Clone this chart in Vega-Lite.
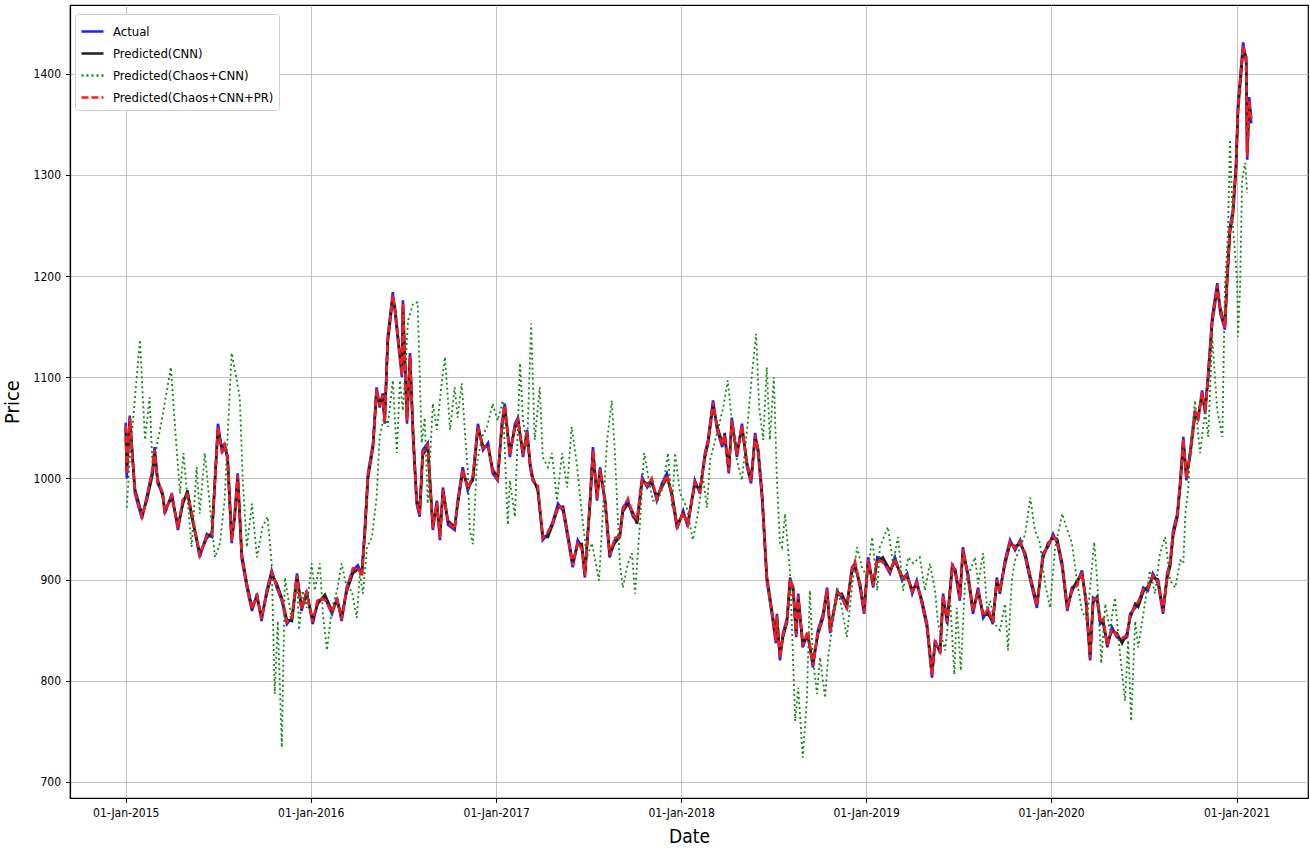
{
  "$schema": "https://vega.github.io/schema/vega-lite/v6.json",
  "width": 1238,
  "height": 793,
  "autosize": {"type": "none"},
  "padding": {"left": 70, "top": 5, "right": 2, "bottom": 53},
  "background": "white",
  "config": {
    "font": "DejaVu Sans Condensed",
    "view": {"stroke": "#000000", "strokeWidth": 1.2},
    "axis": {
      "grid": true,
      "gridColor": "#b5b5b5",
      "gridWidth": 0.8,
      "domainColor": "#000000",
      "domainWidth": 1.2,
      "tickColor": "#000000",
      "tickSize": 4.5,
      "labelFont": "DejaVu Sans Condensed",
      "labelFontSize": 12,
      "labelColor": "#000000",
      "titleFont": "DejaVu Sans Condensed",
      "titleFontWeight": "normal",
      "titleColor": "#000000"
    },
    "legend": {
      "fillColor": "#ffffff",
      "strokeColor": "#cfcfcf",
      "cornerRadius": 3,
      "padding": 5,
      "symbolType": "stroke",
      "symbolSize": 484,
      "symbolStrokeWidth": 2.5,
      "labelFont": "DejaVu Sans Condensed",
      "labelFontSize": 13,
      "labelColor": "#000000",
      "labelLimit": 400,
      "rowPadding": 2,
      "labelOffset": 8
    }
  },
  "datasets": {
    "main": [
      {"d": "2015-01-01", "a": 1055, "c": 1050, "p": 1052},
      {"d": "2015-01-03", "a": 1000, "c": 1008, "p": 1004},
      {"d": "2015-01-09", "a": 1062, "c": 1058, "p": 1060},
      {"d": "2015-01-19", "a": 985, "c": 990, "p": 987},
      {"d": "2015-02-02", "a": 960, "c": 964, "p": 962},
      {"d": "2015-02-11", "a": 981, "c": 977, "p": 979},
      {"d": "2015-02-23", "a": 1008, "c": 1004, "p": 1010},
      {"d": "2015-02-27", "a": 1031, "c": 1026, "p": 1028},
      {"d": "2015-03-05", "a": 995, "c": 999, "p": 997},
      {"d": "2015-03-15", "a": 985, "c": 982, "p": 986},
      {"d": "2015-03-19", "a": 965, "c": 969, "p": 967},
      {"d": "2015-04-02", "a": 985, "c": 981, "p": 983},
      {"d": "2015-04-14", "a": 949, "c": 953, "p": 951},
      {"d": "2015-04-24", "a": 978, "c": 975, "p": 980},
      {"d": "2015-05-03", "a": 985, "c": 988, "p": 984},
      {"d": "2015-05-11", "a": 965, "c": 962, "p": 967},
      {"d": "2015-05-27", "a": 922, "c": 926, "p": 924},
      {"d": "2015-06-10", "a": 945, "c": 941, "p": 943},
      {"d": "2015-06-20", "a": 942, "c": 946, "p": 944},
      {"d": "2015-07-02", "a": 1054, "c": 1048, "p": 1051},
      {"d": "2015-07-10", "a": 1025, "c": 1030, "p": 1027},
      {"d": "2015-07-15", "a": 1035, "c": 1031, "p": 1033},
      {"d": "2015-07-21", "a": 1018, "c": 1022, "p": 1020},
      {"d": "2015-07-29", "a": 936, "c": 941, "p": 938},
      {"d": "2015-08-04", "a": 965, "c": 961, "p": 963},
      {"d": "2015-08-10", "a": 1005, "c": 1000, "p": 1003},
      {"d": "2015-08-18", "a": 920, "c": 925, "p": 922},
      {"d": "2015-08-28", "a": 892, "c": 896, "p": 894},
      {"d": "2015-09-07", "a": 869, "c": 873, "p": 871},
      {"d": "2015-09-17", "a": 886, "c": 882, "p": 884},
      {"d": "2015-09-26", "a": 859, "c": 863, "p": 861},
      {"d": "2015-10-06", "a": 889, "c": 885, "p": 887},
      {"d": "2015-10-16", "a": 909, "c": 905, "p": 907},
      {"d": "2015-10-26", "a": 892, "c": 896, "p": 894},
      {"d": "2015-11-05", "a": 879, "c": 882, "p": 880},
      {"d": "2015-11-15", "a": 856, "c": 860, "p": 858},
      {"d": "2015-11-25", "a": 862, "c": 859, "p": 864},
      {"d": "2015-12-05", "a": 906, "c": 902, "p": 904},
      {"d": "2015-12-14", "a": 869, "c": 873, "p": 871},
      {"d": "2015-12-24", "a": 889, "c": 885, "p": 887},
      {"d": "2016-01-05", "a": 856, "c": 860, "p": 858},
      {"d": "2016-01-15", "a": 879, "c": 876, "p": 881},
      {"d": "2016-01-29", "a": 882, "c": 885, "p": 880},
      {"d": "2016-02-12", "a": 866, "c": 869, "p": 868},
      {"d": "2016-02-22", "a": 882, "c": 879, "p": 880},
      {"d": "2016-03-02", "a": 859, "c": 863, "p": 861},
      {"d": "2016-03-12", "a": 892, "c": 888, "p": 890},
      {"d": "2016-03-24", "a": 909, "c": 906, "p": 911},
      {"d": "2016-04-03", "a": 914, "c": 910, "p": 912},
      {"d": "2016-04-11", "a": 905, "c": 908, "p": 903},
      {"d": "2016-04-17", "a": 952, "c": 947, "p": 950},
      {"d": "2016-04-23", "a": 1005, "c": 1000, "p": 1003},
      {"d": "2016-05-03", "a": 1035, "c": 1031, "p": 1033},
      {"d": "2016-05-10", "a": 1090, "c": 1085, "p": 1088},
      {"d": "2016-05-16", "a": 1070, "c": 1074, "p": 1072},
      {"d": "2016-05-22", "a": 1084, "c": 1080, "p": 1082},
      {"d": "2016-05-26", "a": 1054, "c": 1058, "p": 1056},
      {"d": "2016-06-01", "a": 1140, "c": 1134, "p": 1137},
      {"d": "2016-06-11", "a": 1184, "c": 1178, "p": 1181},
      {"d": "2016-06-15", "a": 1166, "c": 1170, "p": 1168},
      {"d": "2016-06-21", "a": 1137, "c": 1141, "p": 1139},
      {"d": "2016-06-29", "a": 1100, "c": 1105, "p": 1102},
      {"d": "2016-07-01", "a": 1176, "c": 1170, "p": 1173},
      {"d": "2016-07-09", "a": 1054, "c": 1060, "p": 1057},
      {"d": "2016-07-15", "a": 1124, "c": 1119, "p": 1121},
      {"d": "2016-07-21", "a": 1041, "c": 1046, "p": 1043},
      {"d": "2016-07-28", "a": 975, "c": 980, "p": 977},
      {"d": "2016-08-03", "a": 962, "c": 966, "p": 964},
      {"d": "2016-08-09", "a": 1028, "c": 1023, "p": 1026},
      {"d": "2016-08-19", "a": 1035, "c": 1031, "p": 1033},
      {"d": "2016-08-29", "a": 949, "c": 953, "p": 951},
      {"d": "2016-09-06", "a": 978, "c": 974, "p": 976},
      {"d": "2016-09-12", "a": 939, "c": 943, "p": 941},
      {"d": "2016-09-18", "a": 991, "c": 987, "p": 989},
      {"d": "2016-09-28", "a": 954, "c": 958, "p": 956},
      {"d": "2016-10-11", "a": 949, "c": 952, "p": 950},
      {"d": "2016-10-17", "a": 978, "c": 974, "p": 976},
      {"d": "2016-10-27", "a": 1011, "c": 1007, "p": 1009},
      {"d": "2016-11-06", "a": 988, "c": 992, "p": 990},
      {"d": "2016-11-16", "a": 1001, "c": 998, "p": 1003},
      {"d": "2016-11-26", "a": 1054, "c": 1049, "p": 1051},
      {"d": "2016-12-06", "a": 1028, "c": 1032, "p": 1030},
      {"d": "2016-12-16", "a": 1035, "c": 1031, "p": 1033},
      {"d": "2016-12-25", "a": 1005, "c": 1009, "p": 1007},
      {"d": "2017-01-04", "a": 998, "c": 1001, "p": 999},
      {"d": "2017-01-12", "a": 1054, "c": 1049, "p": 1052},
      {"d": "2017-01-18", "a": 1074, "c": 1069, "p": 1072},
      {"d": "2017-01-28", "a": 1021, "c": 1026, "p": 1023},
      {"d": "2017-02-07", "a": 1054, "c": 1050, "p": 1052},
      {"d": "2017-02-13", "a": 1060, "c": 1056, "p": 1058},
      {"d": "2017-02-23", "a": 1021, "c": 1025, "p": 1023},
      {"d": "2017-03-03", "a": 1048, "c": 1044, "p": 1046},
      {"d": "2017-03-09", "a": 1011, "c": 1015, "p": 1013},
      {"d": "2017-03-14", "a": 998, "c": 1001, "p": 999},
      {"d": "2017-03-24", "a": 991, "c": 988, "p": 993},
      {"d": "2017-04-03", "a": 939, "c": 943, "p": 941},
      {"d": "2017-04-13", "a": 945, "c": 942, "p": 947},
      {"d": "2017-04-23", "a": 958, "c": 955, "p": 956},
      {"d": "2017-05-03", "a": 975, "c": 971, "p": 973},
      {"d": "2017-05-13", "a": 968, "c": 972, "p": 970},
      {"d": "2017-05-23", "a": 939, "c": 943, "p": 941},
      {"d": "2017-06-01", "a": 912, "c": 916, "p": 914},
      {"d": "2017-06-11", "a": 939, "c": 935, "p": 937},
      {"d": "2017-06-19", "a": 932, "c": 935, "p": 930},
      {"d": "2017-06-25", "a": 902, "c": 906, "p": 904},
      {"d": "2017-07-05", "a": 978, "c": 972, "p": 975},
      {"d": "2017-07-11", "a": 1031, "c": 1025, "p": 1028},
      {"d": "2017-07-19", "a": 978, "c": 983, "p": 980},
      {"d": "2017-07-25", "a": 1011, "c": 1007, "p": 1009},
      {"d": "2017-08-04", "a": 975, "c": 979, "p": 977},
      {"d": "2017-08-13", "a": 922, "c": 926, "p": 924},
      {"d": "2017-08-23", "a": 939, "c": 936, "p": 941},
      {"d": "2017-09-02", "a": 945, "c": 942, "p": 943},
      {"d": "2017-09-08", "a": 971, "c": 967, "p": 969},
      {"d": "2017-09-18", "a": 978, "c": 975, "p": 980},
      {"d": "2017-09-28", "a": 962, "c": 966, "p": 964},
      {"d": "2017-10-06", "a": 958, "c": 955, "p": 960},
      {"d": "2017-10-16", "a": 1001, "c": 997, "p": 999},
      {"d": "2017-10-26", "a": 991, "c": 995, "p": 993},
      {"d": "2017-11-04", "a": 998, "c": 995, "p": 1000},
      {"d": "2017-11-14", "a": 978, "c": 982, "p": 980},
      {"d": "2017-11-24", "a": 995, "c": 991, "p": 993},
      {"d": "2017-12-04", "a": 1005, "c": 1001, "p": 1003},
      {"d": "2017-12-14", "a": 981, "c": 985, "p": 983},
      {"d": "2017-12-24", "a": 950, "c": 954, "p": 952},
      {"d": "2018-01-05", "a": 968, "c": 965, "p": 966},
      {"d": "2018-01-14", "a": 952, "c": 956, "p": 954},
      {"d": "2018-01-28", "a": 998, "c": 994, "p": 996},
      {"d": "2018-02-07", "a": 985, "c": 989, "p": 987},
      {"d": "2018-02-17", "a": 1025, "c": 1021, "p": 1023},
      {"d": "2018-02-23", "a": 1038, "c": 1034, "p": 1036},
      {"d": "2018-03-05", "a": 1077, "c": 1072, "p": 1075},
      {"d": "2018-03-13", "a": 1048, "c": 1052, "p": 1050},
      {"d": "2018-03-23", "a": 1031, "c": 1035, "p": 1033},
      {"d": "2018-03-28", "a": 1045, "c": 1041, "p": 1043},
      {"d": "2018-04-05", "a": 1005, "c": 1009, "p": 1007},
      {"d": "2018-04-11", "a": 1060, "c": 1055, "p": 1057},
      {"d": "2018-04-21", "a": 1021, "c": 1025, "p": 1023},
      {"d": "2018-05-01", "a": 1054, "c": 1050, "p": 1052},
      {"d": "2018-05-11", "a": 1011, "c": 1015, "p": 1013},
      {"d": "2018-05-19", "a": 995, "c": 999, "p": 997},
      {"d": "2018-05-27", "a": 1045, "c": 1040, "p": 1043},
      {"d": "2018-06-02", "a": 1025, "c": 1029, "p": 1027},
      {"d": "2018-06-10", "a": 978, "c": 983, "p": 980},
      {"d": "2018-06-19", "a": 899, "c": 904, "p": 901},
      {"d": "2018-07-01", "a": 859, "c": 863, "p": 861},
      {"d": "2018-07-07", "a": 837, "c": 841, "p": 839},
      {"d": "2018-07-09", "a": 866, "c": 862, "p": 864},
      {"d": "2018-07-15", "a": 820, "c": 825, "p": 822},
      {"d": "2018-07-21", "a": 847, "c": 843, "p": 845},
      {"d": "2018-07-29", "a": 862, "c": 858, "p": 860},
      {"d": "2018-08-04", "a": 902, "c": 898, "p": 900},
      {"d": "2018-08-10", "a": 889, "c": 893, "p": 891},
      {"d": "2018-08-16", "a": 843, "c": 847, "p": 845},
      {"d": "2018-08-20", "a": 886, "c": 882, "p": 884},
      {"d": "2018-08-29", "a": 833, "c": 837, "p": 835},
      {"d": "2018-09-08", "a": 847, "c": 844, "p": 849},
      {"d": "2018-09-18", "a": 813, "c": 818, "p": 815},
      {"d": "2018-09-28", "a": 850, "c": 846, "p": 848},
      {"d": "2018-10-08", "a": 866, "c": 862, "p": 864},
      {"d": "2018-10-16", "a": 892, "c": 888, "p": 890},
      {"d": "2018-10-22", "a": 847, "c": 851, "p": 849},
      {"d": "2018-11-05", "a": 889, "c": 885, "p": 887},
      {"d": "2018-11-14", "a": 882, "c": 886, "p": 884},
      {"d": "2018-11-24", "a": 872, "c": 875, "p": 870},
      {"d": "2018-12-04", "a": 912, "c": 908, "p": 910},
      {"d": "2018-12-10", "a": 916, "c": 913, "p": 918},
      {"d": "2018-12-20", "a": 892, "c": 896, "p": 894},
      {"d": "2018-12-28", "a": 866, "c": 870, "p": 868},
      {"d": "2019-01-05", "a": 922, "c": 917, "p": 920},
      {"d": "2019-01-15", "a": 892, "c": 896, "p": 894},
      {"d": "2019-01-23", "a": 922, "c": 918, "p": 920},
      {"d": "2019-02-03", "a": 919, "c": 922, "p": 917},
      {"d": "2019-02-17", "a": 906, "c": 909, "p": 908},
      {"d": "2019-02-27", "a": 922, "c": 918, "p": 920},
      {"d": "2019-03-13", "a": 899, "c": 903, "p": 901},
      {"d": "2019-03-23", "a": 906, "c": 902, "p": 904},
      {"d": "2019-04-02", "a": 886, "c": 890, "p": 888},
      {"d": "2019-04-11", "a": 899, "c": 895, "p": 897},
      {"d": "2019-04-21", "a": 876, "c": 880, "p": 878},
      {"d": "2019-05-01", "a": 853, "c": 857, "p": 855},
      {"d": "2019-05-11", "a": 803, "c": 808, "p": 805},
      {"d": "2019-05-17", "a": 840, "c": 836, "p": 838},
      {"d": "2019-05-27", "a": 827, "c": 831, "p": 829},
      {"d": "2019-06-02", "a": 886, "c": 881, "p": 884},
      {"d": "2019-06-10", "a": 856, "c": 860, "p": 858},
      {"d": "2019-06-20", "a": 916, "c": 911, "p": 914},
      {"d": "2019-06-26", "a": 906, "c": 910, "p": 908},
      {"d": "2019-07-05", "a": 879, "c": 883, "p": 881},
      {"d": "2019-07-11", "a": 932, "c": 927, "p": 930},
      {"d": "2019-07-21", "a": 902, "c": 906, "p": 904},
      {"d": "2019-07-31", "a": 866, "c": 870, "p": 868},
      {"d": "2019-08-10", "a": 892, "c": 888, "p": 890},
      {"d": "2019-08-20", "a": 862, "c": 866, "p": 864},
      {"d": "2019-08-30", "a": 869, "c": 865, "p": 871},
      {"d": "2019-09-08", "a": 856, "c": 860, "p": 858},
      {"d": "2019-09-16", "a": 902, "c": 897, "p": 900},
      {"d": "2019-09-22", "a": 886, "c": 890, "p": 888},
      {"d": "2019-10-02", "a": 919, "c": 915, "p": 917},
      {"d": "2019-10-12", "a": 939, "c": 935, "p": 937},
      {"d": "2019-10-22", "a": 929, "c": 933, "p": 931},
      {"d": "2019-11-01", "a": 939, "c": 935, "p": 937},
      {"d": "2019-11-11", "a": 922, "c": 926, "p": 924},
      {"d": "2019-11-21", "a": 899, "c": 903, "p": 901},
      {"d": "2019-12-04", "a": 872, "c": 876, "p": 874},
      {"d": "2019-12-16", "a": 926, "c": 921, "p": 924},
      {"d": "2019-12-26", "a": 932, "c": 936, "p": 934},
      {"d": "2020-01-05", "a": 945, "c": 941, "p": 943},
      {"d": "2020-01-13", "a": 936, "c": 940, "p": 938},
      {"d": "2020-01-23", "a": 912, "c": 916, "p": 914},
      {"d": "2020-02-02", "a": 869, "c": 873, "p": 871},
      {"d": "2020-02-11", "a": 892, "c": 888, "p": 890},
      {"d": "2020-02-21", "a": 896, "c": 899, "p": 894},
      {"d": "2020-03-02", "a": 909, "c": 905, "p": 907},
      {"d": "2020-03-10", "a": 876, "c": 880, "p": 878},
      {"d": "2020-03-18", "a": 820, "c": 825, "p": 822},
      {"d": "2020-03-24", "a": 882, "c": 877, "p": 880},
      {"d": "2020-04-01", "a": 879, "c": 883, "p": 881},
      {"d": "2020-04-07", "a": 856, "c": 860, "p": 858},
      {"d": "2020-04-13", "a": 859, "c": 856, "p": 861},
      {"d": "2020-04-21", "a": 833, "c": 837, "p": 835},
      {"d": "2020-04-30", "a": 853, "c": 849, "p": 851},
      {"d": "2020-05-10", "a": 843, "c": 847, "p": 845},
      {"d": "2020-05-20", "a": 840, "c": 837, "p": 842},
      {"d": "2020-05-30", "a": 843, "c": 847, "p": 845},
      {"d": "2020-06-05", "a": 866, "c": 862, "p": 864},
      {"d": "2020-06-15", "a": 872, "c": 876, "p": 874},
      {"d": "2020-06-21", "a": 876, "c": 873, "p": 878},
      {"d": "2020-07-01", "a": 892, "c": 888, "p": 890},
      {"d": "2020-07-10", "a": 889, "c": 893, "p": 891},
      {"d": "2020-07-20", "a": 906, "c": 902, "p": 904},
      {"d": "2020-07-30", "a": 896, "c": 900, "p": 898},
      {"d": "2020-08-09", "a": 866, "c": 870, "p": 868},
      {"d": "2020-08-17", "a": 906, "c": 901, "p": 904},
      {"d": "2020-08-23", "a": 916, "c": 913, "p": 918},
      {"d": "2020-08-29", "a": 949, "c": 944, "p": 947},
      {"d": "2020-09-06", "a": 965, "c": 961, "p": 963},
      {"d": "2020-09-12", "a": 998, "c": 993, "p": 996},
      {"d": "2020-09-18", "a": 1041, "c": 1036, "p": 1039},
      {"d": "2020-09-24", "a": 998, "c": 1003, "p": 1000},
      {"d": "2020-10-01", "a": 1025, "c": 1021, "p": 1023},
      {"d": "2020-10-11", "a": 1067, "c": 1062, "p": 1065},
      {"d": "2020-10-17", "a": 1057, "c": 1061, "p": 1059},
      {"d": "2020-10-25", "a": 1087, "c": 1082, "p": 1085},
      {"d": "2020-10-31", "a": 1064, "c": 1068, "p": 1066},
      {"d": "2020-11-06", "a": 1104, "c": 1099, "p": 1102},
      {"d": "2020-11-14", "a": 1160, "c": 1154, "p": 1157},
      {"d": "2020-11-24", "a": 1193, "c": 1188, "p": 1191},
      {"d": "2020-11-30", "a": 1163, "c": 1168, "p": 1165},
      {"d": "2020-12-09", "a": 1147, "c": 1151, "p": 1149},
      {"d": "2020-12-13", "a": 1196, "c": 1190, "p": 1193},
      {"d": "2020-12-19", "a": 1249, "c": 1243, "p": 1246},
      {"d": "2020-12-25", "a": 1266, "c": 1261, "p": 1264},
      {"d": "2020-12-31", "a": 1312, "c": 1306, "p": 1309},
      {"d": "2021-01-04", "a": 1371, "c": 1364, "p": 1368},
      {"d": "2021-01-14", "a": 1431, "c": 1424, "p": 1428},
      {"d": "2021-01-20", "a": 1411, "c": 1417, "p": 1414},
      {"d": "2021-01-22", "a": 1315, "c": 1322, "p": 1318},
      {"d": "2021-01-26", "a": 1377, "c": 1371, "p": 1374},
      {"d": "2021-01-30", "a": 1351, "c": 1356, "p": 1353}
    ],
    "chaos": [
      {"d": "2015-01-03", "g": 971},
      {"d": "2015-01-09", "g": 1020},
      {"d": "2015-01-29", "g": 1137},
      {"d": "2015-02-08", "g": 1038},
      {"d": "2015-02-17", "g": 1080},
      {"d": "2015-02-23", "g": 1011},
      {"d": "2015-03-13", "g": 1057},
      {"d": "2015-03-31", "g": 1110},
      {"d": "2015-04-12", "g": 1025},
      {"d": "2015-04-18", "g": 985},
      {"d": "2015-04-25", "g": 1025},
      {"d": "2015-05-11", "g": 932},
      {"d": "2015-05-21", "g": 1011},
      {"d": "2015-05-27", "g": 965},
      {"d": "2015-06-06", "g": 1025},
      {"d": "2015-06-26", "g": 922},
      {"d": "2015-07-06", "g": 936},
      {"d": "2015-07-15", "g": 978},
      {"d": "2015-07-29", "g": 1124},
      {"d": "2015-08-08", "g": 1097},
      {"d": "2015-08-14", "g": 1080},
      {"d": "2015-08-20", "g": 998},
      {"d": "2015-08-28", "g": 932},
      {"d": "2015-09-07", "g": 975},
      {"d": "2015-09-17", "g": 922},
      {"d": "2015-09-28", "g": 952},
      {"d": "2015-10-08", "g": 962},
      {"d": "2015-10-16", "g": 916},
      {"d": "2015-10-22", "g": 787},
      {"d": "2015-10-28", "g": 859},
      {"d": "2015-11-05", "g": 734},
      {"d": "2015-11-11", "g": 902},
      {"d": "2015-11-25", "g": 859},
      {"d": "2015-12-05", "g": 899},
      {"d": "2015-12-09", "g": 850},
      {"d": "2015-12-16", "g": 889},
      {"d": "2015-12-24", "g": 872},
      {"d": "2016-01-03", "g": 916},
      {"d": "2016-01-09", "g": 889},
      {"d": "2016-01-19", "g": 916},
      {"d": "2016-01-25", "g": 866},
      {"d": "2016-02-02", "g": 830},
      {"d": "2016-02-12", "g": 872},
      {"d": "2016-02-22", "g": 889},
      {"d": "2016-03-02", "g": 916},
      {"d": "2016-03-12", "g": 892},
      {"d": "2016-03-22", "g": 889},
      {"d": "2016-04-01", "g": 862},
      {"d": "2016-04-07", "g": 906},
      {"d": "2016-04-13", "g": 886},
      {"d": "2016-04-21", "g": 932},
      {"d": "2016-05-01", "g": 942},
      {"d": "2016-05-10", "g": 981},
      {"d": "2016-05-16", "g": 1041},
      {"d": "2016-05-26", "g": 1064},
      {"d": "2016-06-01", "g": 1051},
      {"d": "2016-06-11", "g": 1097},
      {"d": "2016-06-19", "g": 1025},
      {"d": "2016-06-25", "g": 1097},
      {"d": "2016-07-01", "g": 1067},
      {"d": "2016-07-11", "g": 1156},
      {"d": "2016-07-21", "g": 1173},
      {"d": "2016-07-30", "g": 1174},
      {"d": "2016-08-07", "g": 1035},
      {"d": "2016-08-13", "g": 1060},
      {"d": "2016-08-19", "g": 975},
      {"d": "2016-08-29", "g": 1074},
      {"d": "2016-09-06", "g": 1048},
      {"d": "2016-09-16", "g": 1097},
      {"d": "2016-09-22", "g": 1120},
      {"d": "2016-10-02", "g": 1048},
      {"d": "2016-10-11", "g": 1090},
      {"d": "2016-10-17", "g": 1060},
      {"d": "2016-10-25", "g": 1094},
      {"d": "2016-10-31", "g": 1048},
      {"d": "2016-11-06", "g": 1008},
      {"d": "2016-11-10", "g": 949},
      {"d": "2016-11-16", "g": 935},
      {"d": "2016-11-24", "g": 1015},
      {"d": "2016-12-04", "g": 1041},
      {"d": "2016-12-14", "g": 1051},
      {"d": "2016-12-25", "g": 1074},
      {"d": "2017-01-04", "g": 1057},
      {"d": "2017-01-14", "g": 1077},
      {"d": "2017-01-24", "g": 954},
      {"d": "2017-01-28", "g": 998},
      {"d": "2017-02-07", "g": 962},
      {"d": "2017-02-17", "g": 1114},
      {"d": "2017-02-23", "g": 1057},
      {"d": "2017-03-03", "g": 1031},
      {"d": "2017-03-11", "g": 1153},
      {"d": "2017-03-18", "g": 1038},
      {"d": "2017-03-28", "g": 1090},
      {"d": "2017-04-03", "g": 1021},
      {"d": "2017-04-13", "g": 1011},
      {"d": "2017-04-21", "g": 1025},
      {"d": "2017-05-01", "g": 978},
      {"d": "2017-05-11", "g": 1025},
      {"d": "2017-05-21", "g": 991},
      {"d": "2017-05-30", "g": 1051},
      {"d": "2017-06-09", "g": 1015},
      {"d": "2017-06-19", "g": 965},
      {"d": "2017-06-29", "g": 922},
      {"d": "2017-07-09", "g": 936},
      {"d": "2017-07-23", "g": 899},
      {"d": "2017-07-31", "g": 971},
      {"d": "2017-08-08", "g": 1038},
      {"d": "2017-08-17", "g": 1077},
      {"d": "2017-08-23", "g": 1028},
      {"d": "2017-09-02", "g": 916},
      {"d": "2017-09-08", "g": 892},
      {"d": "2017-09-18", "g": 916},
      {"d": "2017-09-26", "g": 926},
      {"d": "2017-10-02", "g": 886},
      {"d": "2017-10-12", "g": 958},
      {"d": "2017-10-20", "g": 1025},
      {"d": "2017-10-27", "g": 1005},
      {"d": "2017-11-06", "g": 978},
      {"d": "2017-11-16", "g": 978},
      {"d": "2017-11-26", "g": 991},
      {"d": "2017-12-06", "g": 1025},
      {"d": "2017-12-14", "g": 971},
      {"d": "2017-12-20", "g": 1025},
      {"d": "2017-12-30", "g": 985},
      {"d": "2018-01-12", "g": 971},
      {"d": "2018-01-24", "g": 939},
      {"d": "2018-02-03", "g": 965},
      {"d": "2018-02-13", "g": 1001},
      {"d": "2018-02-21", "g": 971},
      {"d": "2018-02-27", "g": 1018},
      {"d": "2018-03-13", "g": 1045},
      {"d": "2018-03-25", "g": 1070},
      {"d": "2018-04-03", "g": 1097},
      {"d": "2018-04-11", "g": 1057},
      {"d": "2018-04-21", "g": 1018},
      {"d": "2018-05-01", "g": 998},
      {"d": "2018-05-11", "g": 1048},
      {"d": "2018-05-21", "g": 1104},
      {"d": "2018-05-29", "g": 1143},
      {"d": "2018-06-04", "g": 1070},
      {"d": "2018-06-12", "g": 1038},
      {"d": "2018-06-19", "g": 1110},
      {"d": "2018-06-25", "g": 1038},
      {"d": "2018-07-03", "g": 1100},
      {"d": "2018-07-09", "g": 998},
      {"d": "2018-07-15", "g": 936},
      {"d": "2018-07-19", "g": 932},
      {"d": "2018-07-25", "g": 965},
      {"d": "2018-08-04", "g": 906},
      {"d": "2018-08-14", "g": 760},
      {"d": "2018-08-20", "g": 793},
      {"d": "2018-08-29", "g": 724},
      {"d": "2018-09-06", "g": 780},
      {"d": "2018-09-12", "g": 889},
      {"d": "2018-09-18", "g": 823},
      {"d": "2018-09-26", "g": 787},
      {"d": "2018-10-02", "g": 823},
      {"d": "2018-10-12", "g": 783},
      {"d": "2018-10-18", "g": 823},
      {"d": "2018-10-26", "g": 853},
      {"d": "2018-11-05", "g": 892},
      {"d": "2018-11-14", "g": 872},
      {"d": "2018-11-24", "g": 843},
      {"d": "2018-12-04", "g": 892},
      {"d": "2018-12-14", "g": 932},
      {"d": "2018-12-24", "g": 912},
      {"d": "2019-01-03", "g": 902},
      {"d": "2019-01-13", "g": 942},
      {"d": "2019-01-23", "g": 889},
      {"d": "2019-01-28", "g": 932},
      {"d": "2019-02-13", "g": 952},
      {"d": "2019-02-23", "g": 916},
      {"d": "2019-03-05", "g": 942},
      {"d": "2019-03-15", "g": 889},
      {"d": "2019-03-25", "g": 922},
      {"d": "2019-04-04", "g": 916},
      {"d": "2019-04-17", "g": 922},
      {"d": "2019-04-27", "g": 889},
      {"d": "2019-05-07", "g": 916},
      {"d": "2019-05-17", "g": 889},
      {"d": "2019-05-23", "g": 856},
      {"d": "2019-06-06", "g": 830},
      {"d": "2019-06-16", "g": 879},
      {"d": "2019-06-24", "g": 806},
      {"d": "2019-06-29", "g": 872},
      {"d": "2019-07-07", "g": 810},
      {"d": "2019-07-15", "g": 896},
      {"d": "2019-07-25", "g": 909},
      {"d": "2019-08-04", "g": 922},
      {"d": "2019-08-10", "g": 896},
      {"d": "2019-08-20", "g": 926},
      {"d": "2019-08-28", "g": 869},
      {"d": "2019-09-03", "g": 879},
      {"d": "2019-09-12", "g": 856},
      {"d": "2019-09-22", "g": 850},
      {"d": "2019-10-02", "g": 876},
      {"d": "2019-10-08", "g": 830},
      {"d": "2019-10-16", "g": 902},
      {"d": "2019-10-22", "g": 919},
      {"d": "2019-11-01", "g": 932},
      {"d": "2019-11-11", "g": 945},
      {"d": "2019-11-21", "g": 981},
      {"d": "2019-11-30", "g": 949},
      {"d": "2019-12-10", "g": 936},
      {"d": "2019-12-20", "g": 896},
      {"d": "2019-12-30", "g": 872},
      {"d": "2020-01-09", "g": 932},
      {"d": "2020-01-23", "g": 965},
      {"d": "2020-02-02", "g": 949},
      {"d": "2020-02-11", "g": 936},
      {"d": "2020-02-21", "g": 899},
      {"d": "2020-03-02", "g": 869},
      {"d": "2020-03-12", "g": 859},
      {"d": "2020-03-18", "g": 892},
      {"d": "2020-03-26", "g": 937},
      {"d": "2020-04-01", "g": 899},
      {"d": "2020-04-09", "g": 817},
      {"d": "2020-04-17", "g": 876},
      {"d": "2020-04-26", "g": 850},
      {"d": "2020-05-06", "g": 882},
      {"d": "2020-05-16", "g": 827},
      {"d": "2020-05-26", "g": 780},
      {"d": "2020-06-01", "g": 840},
      {"d": "2020-06-07", "g": 760},
      {"d": "2020-06-15", "g": 859},
      {"d": "2020-06-21", "g": 833},
      {"d": "2020-07-01", "g": 866},
      {"d": "2020-07-14", "g": 909},
      {"d": "2020-07-24", "g": 886},
      {"d": "2020-08-03", "g": 926},
      {"d": "2020-08-13", "g": 942},
      {"d": "2020-08-23", "g": 899},
      {"d": "2020-09-02", "g": 892},
      {"d": "2020-09-12", "g": 919},
      {"d": "2020-09-18", "g": 916},
      {"d": "2020-09-22", "g": 965},
      {"d": "2020-09-28", "g": 991},
      {"d": "2020-10-01", "g": 1025},
      {"d": "2020-10-11", "g": 1077},
      {"d": "2020-10-21", "g": 1025},
      {"d": "2020-10-31", "g": 1067},
      {"d": "2020-11-06", "g": 1041},
      {"d": "2020-11-14", "g": 1140},
      {"d": "2020-11-24", "g": 1067},
      {"d": "2020-12-04", "g": 1041},
      {"d": "2020-12-09", "g": 1189},
      {"d": "2020-12-15", "g": 1242},
      {"d": "2020-12-19", "g": 1335},
      {"d": "2020-12-25", "g": 1249},
      {"d": "2021-01-02", "g": 1196},
      {"d": "2021-01-04", "g": 1140},
      {"d": "2021-01-08", "g": 1189},
      {"d": "2021-01-12", "g": 1295},
      {"d": "2021-01-18", "g": 1312},
      {"d": "2021-01-22", "g": 1282}
    ]
  },
  "encoding": {
    "x": {
      "field": "d",
      "type": "temporal",
      "scale": {
        "type": "utc",
        "domain": [1410566400000, 1621641600000]
      },
      "axis": {
        "title": "Date",
        "titleFontSize": 19,
        "format": "%d-%b-%Y",
        "values": [1420070400000, 1451606400000, 1483228800000, 1514764800000, 1546300800000, 1577836800000, 1609459200000],
        "labelPadding": 5,
        "titlePadding": 9
      }
    }
  },
  "layer": [
    {
      "data": {"name": "main"},
      "mark": {"type": "line", "strokeWidth": 2.6},
      "encoding": {
        "y": {
          "field": "a",
          "type": "quantitative",
          "scale": {"domain": [684, 1468], "nice": false, "zero": false},
          "axis": {
            "title": "Price",
            "titleFontSize": 20,
            "format": "d",
            "values": [700, 800, 900, 1000, 1100, 1200, 1300, 1400],
            "labelPadding": 5,
            "titlePadding": 11
          }
        },
        "color": {
          "datum": "Actual",
          "scale": {
            "domain": ["Actual", "Predicted(CNN)", "Predicted(Chaos+CNN)", "Predicted(Chaos+CNN+PR)"],
            "range": ["#1f1fff", "#222222", "#118811", "#ff1a1a"]
          },
          "legend": {"title": null, "orient": "none", "legendX": 5, "legendY": 9}
        },
        "strokeDash": {
          "datum": "Actual",
          "scale": {
            "domain": ["Actual", "Predicted(CNN)", "Predicted(Chaos+CNN)", "Predicted(Chaos+CNN+PR)"],
            "range": [[1, 0], [1, 0], [2, 3], [7, 3]]
          },
          "legend": {"title": null, "orient": "none", "legendX": 5, "legendY": 9}
        }
      }
    },
    {
      "data": {"name": "main"},
      "mark": {"type": "line", "strokeWidth": 2.6},
      "encoding": {
        "y": {"field": "c", "type": "quantitative"},
        "color": {"datum": "Predicted(CNN)"},
        "strokeDash": {"datum": "Predicted(CNN)"}
      }
    },
    {
      "data": {"name": "chaos"},
      "mark": {"type": "line", "strokeWidth": 1.8},
      "encoding": {
        "y": {"field": "g", "type": "quantitative"},
        "color": {"datum": "Predicted(Chaos+CNN)"},
        "strokeDash": {"datum": "Predicted(Chaos+CNN)"}
      }
    },
    {
      "data": {"name": "main"},
      "mark": {"type": "line", "strokeWidth": 2.6},
      "encoding": {
        "y": {"field": "p", "type": "quantitative"},
        "color": {"datum": "Predicted(Chaos+CNN+PR)"},
        "strokeDash": {"datum": "Predicted(Chaos+CNN+PR)"}
      }
    }
  ]
}
